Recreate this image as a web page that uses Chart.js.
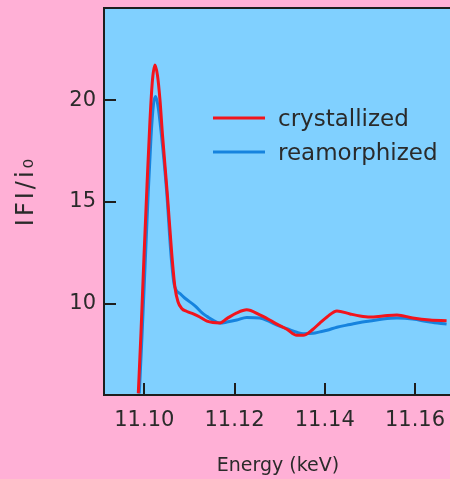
<!DOCTYPE html>
<html>
<head>
<meta charset="utf-8">
<script src="https://cdn.jsdelivr.net/npm/chart.js@4/dist/chart.umd.min.js"></script>
<style>
  html, body { margin: 0; padding: 0; background: #ffb0d6; overflow: hidden; }
  #wrap { width: 460px; height: 479px; }
</style>
</head>
<body>
<div id="wrap"><canvas id="c" width="460" height="479"></canvas></div>
<script>
// ---- data ----
const seriesNames = ["crystallized", "reamorphized"];
const xTitle = "Energy (keV)";
const yTitle = "IFI/i\u2080";

const crystallizedEnergy = [11.09867, 11.09927, 11.09993, 11.10060, 11.10126, 11.10182, 11.10237, 11.10293, 11.10348, 11.10403,
  11.10510, 11.10607, 11.10680, 11.10747, 11.10829, 11.10946, 11.11086, 11.11230, 11.1139,
  11.1152, 11.1168, 11.1183, 11.1205, 11.1227, 11.1256, 11.1278, 11.1294, 11.1316, 11.1338,
  11.1352, 11.1374, 11.1389, 11.1405, 11.1427, 11.1456, 11.1478, 11.1500, 11.1529, 11.1560,
  11.1595, 11.1633, 11.1670];
const crystallizedValues = [5.6, 8.6, 12.3, 15.8, 19.0, 21.0, 21.72, 21.2, 20.0, 18.3,
  15.4, 12.5, 10.8, 10.1, 9.77, 9.62, 9.5, 9.35, 9.15,
  9.08, 9.06, 9.27, 9.55, 9.7, 9.45, 9.2, 9.0, 8.75, 8.45,
  8.45, 8.75, 9.05, 9.35, 9.65, 9.5, 9.4, 9.35, 9.4, 9.45,
  9.3, 9.2, 9.17];

const reamorphizedEnergy = [11.09889, 11.09949, 11.10016, 11.10082, 11.10149, 11.10204, 11.10253, 11.10304, 11.10370, 11.10496,
  11.10592, 11.10665, 11.10791, 11.10902, 11.11124, 11.11308, 11.1139, 11.1152, 11.1168, 11.1183,
  11.1205, 11.1227, 11.1256, 11.1278, 11.1294, 11.1316, 11.1338, 11.1352, 11.1374, 11.1389,
  11.1405, 11.1427, 11.1456, 11.1478, 11.1500, 11.1529, 11.1560, 11.1595, 11.1633, 11.1670];
const reamorphizedValues = [5.6, 8.4, 11.8, 15.2, 18.2, 19.8, 20.17, 19.7, 18.5, 15.5,
  12.4, 10.92, 10.5, 10.27, 9.9, 9.5, 9.38, 9.2, 9.05, 9.1,
  9.2, 9.33, 9.3, 9.12, 8.95, 8.78, 8.6, 8.53, 8.55, 8.62,
  8.7, 8.85, 8.98, 9.08, 9.15, 9.25, 9.3, 9.25, 9.1, 9.0];

const xTicks = [11.10, 11.12, 11.14, 11.16];
const yTicks = [10, 15, 20];

// ---- styling ----
const FONT = "'DejaVu Sans', sans-serif";
const TEXT = "#2a2a2a";
const AXIS = "#1e1e1e";
const COLORS = ["#f2141c", "#1683de"];

function toPoints(xs, ys) { return xs.map((x, i) => ({ x: x, y: ys[i] })); }

const areaPlugin = {
  id: "area",
  beforeDraw(chart) {
    const { ctx, chartArea: a } = chart;
    ctx.save();
    ctx.fillStyle = "#80d0ff";
    ctx.fillRect(a.left, a.top, a.right - a.left, a.bottom - a.top);
    ctx.restore();
  },
  beforeDatasetsDraw(chart) {
    const { ctx, chartArea: a, scales } = chart;
    ctx.save();
    ctx.strokeStyle = AXIS;
    ctx.lineWidth = 2;
    ctx.beginPath();
    ctx.moveTo(a.left - 1, a.top);
    ctx.lineTo(a.right + 20, a.top);
    ctx.stroke();
    yTicks.forEach(v => {
      const y = Math.round(scales.y.getPixelForValue(v));
      ctx.beginPath(); ctx.moveTo(a.left, y); ctx.lineTo(a.left + 12, y); ctx.stroke();
    });
    xTicks.forEach(v => {
      const x = Math.round(scales.x.getPixelForValue(v));
      ctx.beginPath(); ctx.moveTo(x, a.bottom); ctx.lineTo(x, a.bottom - 12); ctx.stroke();
    });
    ctx.restore();
  },
  afterDraw(chart) {
    const { ctx, chartArea: a } = chart;
    ctx.save();
    // legend
    ctx.font = "23px " + FONT;
    ctx.textBaseline = "middle";
    chart.data.datasets.forEach((ds, i) => {
      const y = a.top + 110 + i * 34;
      ctx.strokeStyle = ds.borderColor;
      ctx.lineWidth = 3;
      ctx.beginPath(); ctx.moveTo(a.left + 109, y); ctx.lineTo(a.left + 161, y); ctx.stroke();
      ctx.fillStyle = TEXT;
      ctx.fillText(ds.label, a.left + 174, y + 2);
    });
    ctx.restore();
    // y-axis title
    ctx.save();
    ctx.translate(33, 191);
    ctx.rotate(-Math.PI / 2);
    ctx.font = "24px " + FONT;
    if ("letterSpacing" in ctx) ctx.letterSpacing = "3px";
    ctx.textAlign = "center";
    ctx.textBaseline = "alphabetic";
    ctx.fillStyle = TEXT;
    ctx.fillText(yTitle, 0, 0);
    ctx.restore();
  }
};

new Chart(document.getElementById("c"), {
  type: "line",
  data: {
    datasets: [
      { label: seriesNames[0], data: toPoints(crystallizedEnergy, crystallizedValues),
        borderColor: COLORS[0], borderWidth: 3, pointRadius: 0, cubicInterpolationMode: "monotone", fill: false },
      { label: seriesNames[1], data: toPoints(reamorphizedEnergy, reamorphizedValues),
        borderColor: COLORS[1], borderWidth: 3, pointRadius: 0, cubicInterpolationMode: "monotone", fill: false }
    ]
  },
  options: {
    responsive: false,
    animation: false,
    layout: { padding: { left: 0, top: 8, right: 8, bottom: 0 } },
    plugins: { legend: { display: false }, tooltip: { enabled: false } },
    scales: {
      x: {
        type: "linear",
        min: 11.09107,
        max: 11.1682,
        afterBuildTicks: s => { s.ticks = xTicks.map(v => ({ value: v })); },
        afterFit: s => { s.height = 84; s.paddingLeft = 0; s.paddingRight = 0; },
        grid: { display: false, drawTicks: false },
        border: { display: true, color: AXIS, width: 2 },
        ticks: { color: TEXT, font: { family: FONT, size: 21 }, padding: 13,
          maxRotation: 0, callback: v => v.toFixed(2) },
        title: { display: true, text: xTitle, color: TEXT,
          font: { family: FONT, size: 19 }, padding: { top: 0, bottom: 2 } }
      },
      y: {
        type: "linear",
        min: 5.52,
        max: 24.52,
        afterBuildTicks: s => { s.ticks = yTicks.map(v => ({ value: v })); },
        afterFit: s => { s.width = 104; s.paddingTop = 0; s.paddingBottom = 0; },
        grid: { display: false, drawTicks: false },
        border: { display: true, color: AXIS, width: 2 },
        ticks: { color: TEXT, font: { family: FONT, size: 21 }, padding: 8 },
        title: { display: false, text: yTitle }
      }
    }
  },
  plugins: [areaPlugin]
});
</script>
</body>
</html>
